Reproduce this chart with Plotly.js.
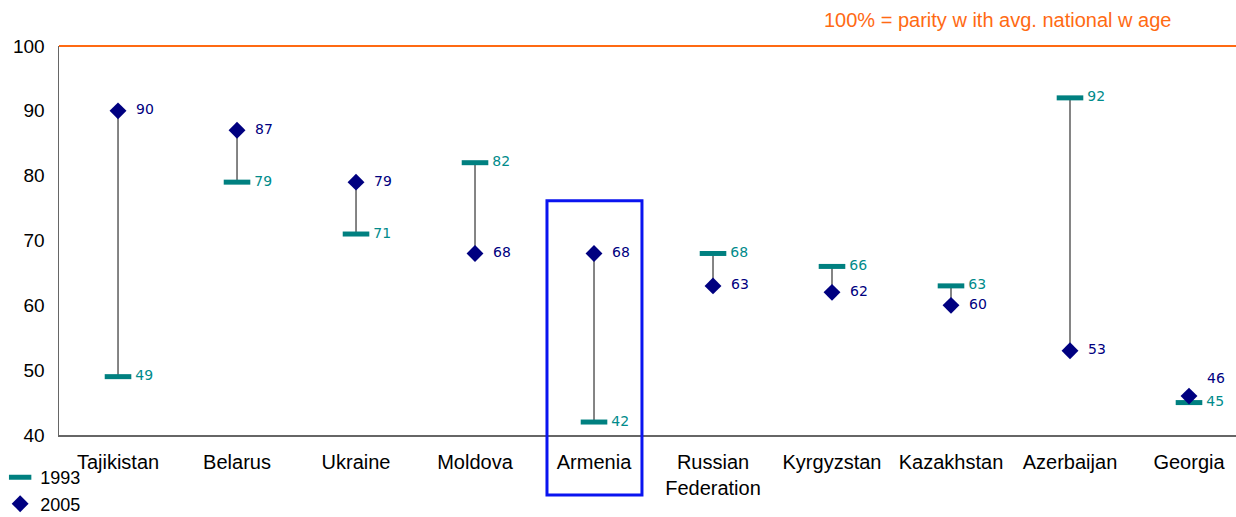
<!DOCTYPE html>
<html><head><meta charset="utf-8">
<script src="https://cdn.plot.ly/plotly-3.0.1.min.js"></script>
<style>html,body{margin:0;padding:0;background:#fff}#chart{width:1236px;height:517px}</style>
</head><body><div id="chart"></div>
<script>
const countries = ["Tajikistan","Belarus","Ukraine","Moldova","Armenia","Russian<br>Federation","Kyrgyzstan","Kazakhstan","Azerbaijan","Georgia"];
const values1993 = [49,79,71,82,42,68,66,63,92,45];
const values2005 = [90,87,79,68,68,63,62,60,53,46];
const pos2005 = ["middle right","middle right","middle right","middle right","middle right","middle right","middle right","middle right","middle right","top right"];

const idx = countries.map((c,i)=>i);
const lx = [], ly = [];
idx.forEach(i=>{ lx.push(i,i,null); ly.push(values1993[i],values2005[i],null); });

const traces = [
  {x: lx, y: ly, mode:'lines', line:{color:'#333333', width:1.2}, showlegend:false, hoverinfo:'skip'},
  {x: idx, y: values1993, name:'1993', mode:'markers+text', text: values1993.map(String),
   texttemplate:' %{text}', textposition:'middle right', cliponaxis:false,
   textfont:{family:'DejaVu Sans', size:14, color:'#008B8B'},
   marker:{symbol:'line-ew', size:19, color:'#008080', line:{color:'#008080', width:5}}},
  {x: idx, y: values2005, name:'2005', mode:'markers+text', text: values2005.map(String),
   texttemplate:'  %{text}', textposition:pos2005, cliponaxis:false,
   textfont:{family:'DejaVu Sans', size:14, color:'#000080'},
   marker:{symbol:'diamond', size:13, color:'#000080'}}
];

const layout = {
  width:1236, height:517,
  margin:{l:59, r:0, t:46, b:82, autoexpand:false},
  paper_bgcolor:'#fff', plot_bgcolor:'#fff',
  font:{family:'Liberation Sans, Arial, sans-serif', color:'#000'},
  showlegend:true,
  legend:{x:-0.05, y:-0.062, xanchor:'left', yanchor:'top', orientation:'v',
    font:{size:18, family:'Liberation Sans, Arial'}, itemwidth:30, tracegroupgap:0, bgcolor:'rgba(0,0,0,0)'},
  xaxis:{tickmode:'array', tickvals:idx, ticktext:countries, range:[-0.496, 9.395],
    showgrid:false, zeroline:false, showline:true, linecolor:'#666', linewidth:1.5,
    ticks:'', ticklabelstandoff:8, tickfont:{size:20, family:'Liberation Sans, Arial'}, fixedrange:true},
  yaxis:{range:[40,100], tickvals:[40,50,60,70,80,90,100], showgrid:false, zeroline:false,
    showline:true, linecolor:'#666', linewidth:1.5, ticks:'', ticklabelstandoff:9,
    tickfont:{size:19, family:'Liberation Sans, Arial'}, fixedrange:true},
  shapes:[
    {type:'line', xref:'paper', yref:'paper', x0:0, x1:1, y0:1, y1:1, line:{color:'#FF6A13', width:2}},
    {type:'rect', xref:'paper', yref:'paper', x0:0.4146, x1:0.4953, y0:-0.154, y1:0.602,
     line:{color:'#0A14F0', width:3}, fillcolor:'rgba(0,0,0,0)'}
  ],
  annotations:[
    {text:'100% = parity w ith avg. national w age', xref:'paper', yref:'paper', x:0.9465, y:1.068,
     xanchor:'right', yanchor:'middle', showarrow:false, font:{size:20, color:'#FF6A13', family:'Liberation Sans, Arial'}}
  ]
};
Plotly.newPlot('chart', traces, layout, {displayModeBar:false, staticPlot:true});
</script></body></html>
